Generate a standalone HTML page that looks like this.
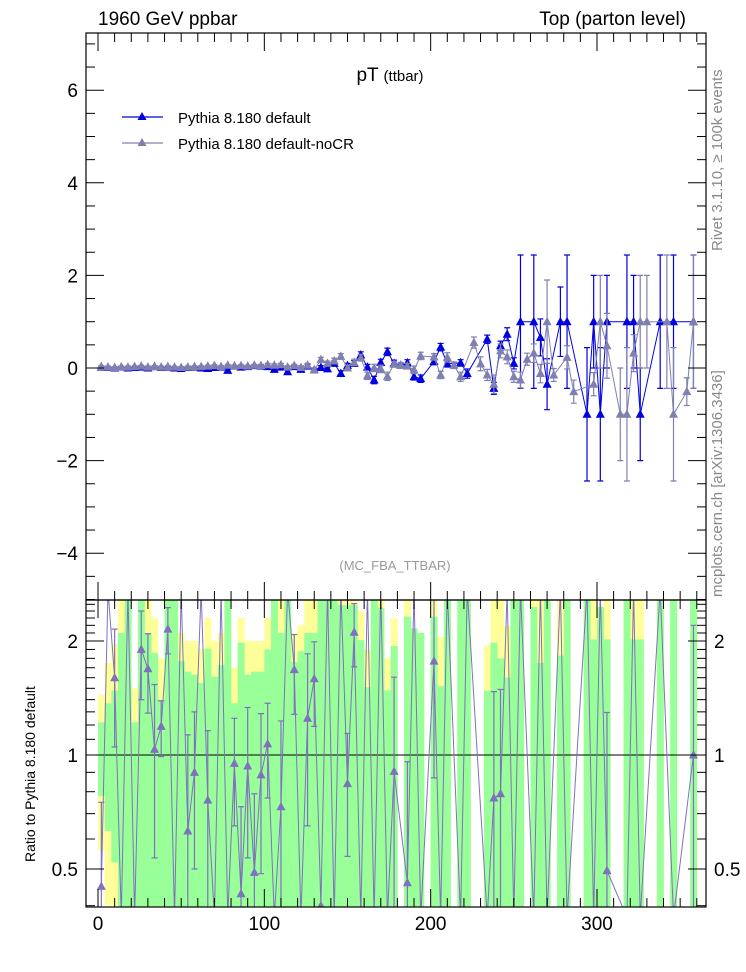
<!DOCTYPE html>
<html><head><meta charset="utf-8"><style>
html,body{margin:0;background:#fff;overflow:hidden;width:746px;height:972px;}
svg{display:block;font-family:"Liberation Sans",sans-serif;}
</style></head><body>
<svg id="c" width="746" height="972" xmlns="http://www.w3.org/2000/svg">
<text x="98" y="25" font-size="19">1960 GeV ppbar</text>
<text x="686" y="25" font-size="19" text-anchor="end">Top (parton level)</text>
<text x="390" y="81" font-size="19" text-anchor="middle">pT <tspan font-size="15">(ttbar)</tspan></text>
<text x="395" y="570" font-size="13" fill="#999" text-anchor="middle">(MC_FBA_TTBAR)</text>
<text transform="translate(722,251) rotate(-90)" font-size="15" fill="#888">Rivet 3.1.10, ≥ 100k events</text>
<text transform="translate(722,597) rotate(-90)" font-size="15" fill="#888">mcplots.cern.ch [arXiv:1306.3436]</text>
<text transform="translate(35,862) rotate(-90)" font-size="14">Ratio to Pythia 8.180 default</text>
<g>
<g><line x1="122" y1="117" x2="163" y2="117" stroke="#0000e0" stroke-width="1.2"/><path d="M142 112 L146.5 120 L137.5 120Z" fill="#0000e0"/><text x="178" y="123" font-size="15">Pythia 8.180 default</text></g>
<g><line x1="122" y1="143" x2="163" y2="143" stroke="#8080b0" stroke-width="1.2"/><path d="M142 138 L146.5 146 L137.5 146Z" fill="#8080b0"/><text x="178" y="149" font-size="15">Pythia 8.180 default-noCR</text></g>
</g>
<g id="g"></g>
</svg>
<script>
// ---- data ----
const blueX=[2,6,10,14,18,22,26,30,34,38,42,46,50,54,58,62,66,70,74,78,82,86,90,94,98,102,106,110,114,118,122,126,130,134,138,142,146,150,154,158,162,166,170,174,178,182,186,190,194,202,206,210,218,222,234,238,242,246,250,254,262,266,270,278,282,294,298,302,306,318,322,326,338,346,358];
const blueY=[0.02,0.01,0,0.02,0,0.01,0.02,0,0.03,0.01,0.02,0,-0.01,0.01,0.02,0,-0.01,0.01,0.02,-0.05,0.04,0.02,0.03,0.05,0.04,0.03,-0.03,0.02,-0.08,0.03,-0.03,0.04,-0.04,0.01,-0.02,0.1,-0.12,0.05,0.1,0.28,0.02,-0.26,0.12,0.35,0.1,0.06,0.11,-0.19,-0.23,0.14,0.45,0.09,0.11,-0.12,0.62,-0.44,0.48,0.73,0.1,1,1,0.66,-0.35,1,1,-1,1,-1,1,1,1,-1,1,1,1];
const blueErr=[0.02,0.02,0.02,0.02,0.02,0.02,0.02,0.02,0.02,0.02,0.02,0.02,0.02,0.02,0.02,0.02,0.02,0.02,0.02,0.02,0.02,0.02,0.02,0.02,0.02,0.02,0.03,0.03,0.03,0.03,0.03,0.04,0.04,0.04,0.04,0.05,0.06,0.05,0.06,0.07,0.06,0.08,0.07,0.08,0.07,0.05,0.07,0.07,0.08,0.07,0.08,0.07,0.07,0.1,0.09,0.13,0.1,0.14,0.12,1.44,1.44,0.4,0.55,0.75,1.44,1.44,1.0,1.44,1.0,1.44,1.0,1.0,1.44,1.44,1.44];
const grayX=[2,6,10,14,18,22,26,30,34,38,42,46,50,54,58,62,66,70,74,78,82,86,90,94,98,102,106,110,114,118,122,126,130,134,138,142,146,150,154,158,162,166,170,174,178,182,186,190,194,202,206,210,214,218,226,230,234,238,242,246,250,254,258,262,266,270,274,282,286,298,302,306,314,318,322,326,330,342,346,354,358];
const grayY=[0.03,0.02,0.01,0.02,0.02,0.03,0.04,0.02,0.03,0.02,0.03,0.02,0.01,0.02,0.03,0.03,0.04,0.05,0.03,0.06,0.04,0.05,0.04,0.06,0.05,0.07,0.06,0.07,0.02,0.05,0.01,0.06,-0.04,0.18,0.1,0.15,0.25,0,0.12,0.22,-0.17,0,-0.02,-0.18,0.08,0.06,0.04,-0.04,0.26,0.24,-0.15,0.23,0.06,-0.19,0.55,0.09,-0.15,-0.35,0.37,0.24,-0.19,-0.26,0.19,0.32,-0.12,1,-0.15,0.23,-0.51,-0.35,1,0.48,-1,-1,0.32,1,1,1,-1,-0.51,1];
const grayErr=[0.02,0.02,0.02,0.02,0.02,0.02,0.02,0.02,0.02,0.02,0.02,0.02,0.02,0.02,0.02,0.02,0.02,0.02,0.02,0.02,0.02,0.02,0.02,0.02,0.03,0.03,0.03,0.03,0.03,0.03,0.04,0.04,0.04,0.05,0.05,0.06,0.06,0.06,0.07,0.07,0.08,0.08,0.08,0.09,0.06,0.06,0.06,0.08,0.08,0.07,0.08,0.1,0.07,0.1,0.12,0.15,0.12,0.2,0.15,0.15,0.12,0.17,0.13,0.2,0.2,0.9,0.14,0.25,0.25,0.25,1.0,0.7,1.0,1.44,0.4,1.0,1.0,1.44,1.44,0.3,1.44];
// ratio panel (bins of width 4, centres 2..358)
const greenTop=[1.22,1.37,1.48,2.1,3,1.22,3,2.1,1.86,1.4,3,3,1.77,1.66,1.63,1.55,1.91,1.61,1.73,3,1.37,1.98,1.63,1.66,1.66,1.9,3,2.1,3,1.76,1.88,2.1,2.1,3,3,3,2.49,2.49,2.49,2.01,1.51,3,2.45,1.48,1.94,0,2.32,2.16,2.1,0,2.32,1.52,3,0,3,3,0,0,1.48,1.98,1.8,1.6,3,3,0,2.46,1.75,3,0,1.83,3,0,0,3,2.02,2.46,2.02,0,0,3,2.02,2.02,0,0,3,0,3,0,0,3];
const yellowTop=[1.44,1.75,1.96,3,3,1.5,3,3,2.3,1.8,3,3,2.1,2.0,2.0,1.9,2.3,2.0,2.1,3,1.7,2.3,2.0,2.0,2.0,2.3,3,3,3,2.1,2.2,3,3,3,3,3,3,3,3,2.4,1.9,3,3,1.8,2.3,0,3,2.16,2.1,0,3,2.05,3,0,3,3,0,0,1.95,3,3,2.19,3,3,0,3,3,3,0,3,3,0,0,3,3,2.46,3,0,0,3,3,3,0,0,3,0,3,0,0,3];
const ratioX=[2,6,10,14,18,22,26,30,34,38,42,46,50,54,58,62,66,70,74,78,82,86,90,94,98,102,106,110,114,118,122,126,130,134,138,142,146,150,154,158,162,166,170,174,178,186,190,194,202,206,210,218,222,234,238,242,246,250,254,262,266,270,278,282,294,298,302,306,318,322,326,338,346,358];
const ratioY=[0.45,3,1.6,0.2,3,0.1,1.9,1.69,1.035,1.19,2.15,0.2,3,0.63,0.9,3,0.76,0.2,3,0.2,0.95,0.43,0.935,0.49,0.886,1.07,0.2,0.73,3,1.68,0.2,1.25,1.59,0.4,3,0.2,3,0.84,2.11,0.2,3,0.2,3,0.2,0.905,0.46,3,0.2,1.77,0.2,3,0.2,3,0.2,0.77,0.79,3,0.2,3,0.2,3,0.2,3,0.2,3,0.2,3,0.495,0.2,3,0.2,3,0.2,1.0];
const ratioErr=[0.3,0,0.55,0,0,0,0.5,0.4,0.5,0.2,0.3,0,0,0.5,0.4,0,0.4,0,0,0,0.3,0.3,0.4,0.3,0.4,0.3,0,0.5,0,0.4,0,0.6,0.4,0,0,0,0,0.3,0.4,0,0,0,0,0,0.7,0.5,0,0,0.9,0,0,0,0,0,0.7,0.7,0,0,0,0,0,0,0,0,0,0,0,0.8,0,0,0,0,0,1.2];
const yTicksMain=[-4,-2,0,2,4,6];
const xTicks=[0,100,200,300];
const rTicks=[0.5,1,2];
// ---- axes ----
const L=86,R=706,T=33,MB=600,RB=907;
const X=v=>98+v*1.6633;
const YM=v=>368-v*46.3;
const YR=v=>755-114*Math.log2(v);
const g=document.getElementById('g');
const NS='http://www.w3.org/2000/svg';
function el(t,a,p){const e=document.createElementNS(NS,t);for(const k in a)e.setAttribute(k,a[k]);(p||g).appendChild(e);return e;}
const defs=el('defs',{});
const c1=el('clipPath',{id:'cm'},defs);el('rect',{x:L,y:T,width:R-L,height:MB-T},c1);
const c2=el('clipPath',{id:'cr'},defs);el('rect',{x:L,y:MB,width:R-L,height:RB-MB},c2);
const bands=el('g',{'clip-path':'url(#cr)'});


function band(top,col,nm){for(let i=0;i<top.length;i++){const t=top[i];if(!t)continue;const y1=YR(Math.min(t,2.6));const y2=(i<3)?YR(Math.max(2-t,0.4)):RB;const r=el('rect',{x:X(i*4),y:y1,width:X(4)-X(0)+0.3,height:y2-y1,fill:col},bands);

}}
band(yellowTop,'#ffff99','yellow-band');band(greenTop,'#99ff99','green-band');
el('line',{x1:L,y1:YR(1),x2:R,y2:YR(1),stroke:'#000','stroke-width':1});
function tri(x,y,col,p){return el('path',{d:`M${x} ${y-5}L${x+4.5} ${y+3.5}L${x-4.5} ${y+3.5}Z`,fill:col},p);}
function series(xs,ys,es,col,yf,clip,nm,lo0,hi0){const s=el('g',{'clip-path':clip});


const cl=y=>Math.max(lo0,Math.min(hi0,y));
let d='';xs.forEach((x,i)=>{d+=(i?'L':'M')+X(x)+' '+cl(yf(ys[i]));});
el('path',{d,fill:'none',stroke:col,'stroke-width':1},s);
xs.forEach((x,i)=>{const px=X(x),py=yf(ys[i]);const e=es[i];if(e>0){const lo=ys[i]-e;const yt=cl(yf(ys[i]+e)),yb=cl(yf(lo>0||yf===YM?lo:0.01));el('path',{d:`M${px} ${yt}V${yb}M${px-3} ${yt}H${px+3}M${px-3} ${yb}H${px+3}`,stroke:col,'stroke-width':1.2,fill:'none'},s);}
if(py<lo0-5||py>hi0+5)return;
const m=tri(px,py,col,s);

});}
series(blueX,blueY,blueErr,'#0000e0',YM,'url(#cm)','series-default',T-10,MB+10);
series(grayX,grayY,grayErr,'#8080b0',YM,'url(#cm)','series-nocr',T-10,MB+10);
series(ratioX,ratioY,ratioErr,'#8070c0',YR,'url(#cr)','ratio-series',MB-10,RB+10);
el('rect',{x:L,y:T,width:R-L,height:MB-T,fill:'none',stroke:'#000','stroke-width':1.2});
el('rect',{x:L,y:MB,width:R-L,height:RB-MB,fill:'none',stroke:'#000','stroke-width':1.2});
for(let v=-5;v<=7;v+=0.5){const y=YM(v);if(y<T||y>MB)continue;const maj=Number.isInteger(v/2);const w=maj?18:9;el('line',{x1:L,y1:y,x2:L+w,y2:y,stroke:'#000'});el('line',{x1:R,y1:y,x2:R-w,y2:y,stroke:'#000'});}
yTicksMain.forEach(v=>{const t=el('text',{x:78,y:YM(v)+7,'font-size':19,'text-anchor':'end'});t.textContent=(v<0?'\u2212'+(-v):v);

});
for(let v=0;v<=360;v+=10){const x=X(v);const maj=v%100===0;const w=maj?18:9;[T,MB,RB].forEach(y0=>{if(y0!==RB)el('line',{x1:x,y1:y0,x2:x,y2:y0+w,stroke:'#000'});if(y0!==T)el('line',{x1:x,y1:y0,x2:x,y2:y0-w,stroke:'#000'});});}
xTicks.forEach(v=>{const t=el('text',{x:X(v),y:930,'font-size':19,'text-anchor':'middle'});t.textContent=v;

});
[0.4,0.5,0.6,0.7,0.8,0.9,1,1.1,1.2,1.3,1.4,1.5,1.6,1.7,1.8,1.9,2,2.1,2.2,2.3,2.4,2.5].forEach(v=>{const y=YR(v);if(y<MB||y>RB)return;const maj=rTicks.includes(v);const w=maj?18:9;el('line',{x1:L,y1:y,x2:L+w,y2:y,stroke:'#000'});el('line',{x1:R,y1:y,x2:R-w,y2:y,stroke:'#000'});});
rTicks.forEach(v=>{[[78,'end'],[714,'start']].forEach(([x,a])=>{const t=el('text',{x,y:YR(v)+7,'font-size':19,'text-anchor':a});t.textContent=v;

});});
</script>
</body></html>
